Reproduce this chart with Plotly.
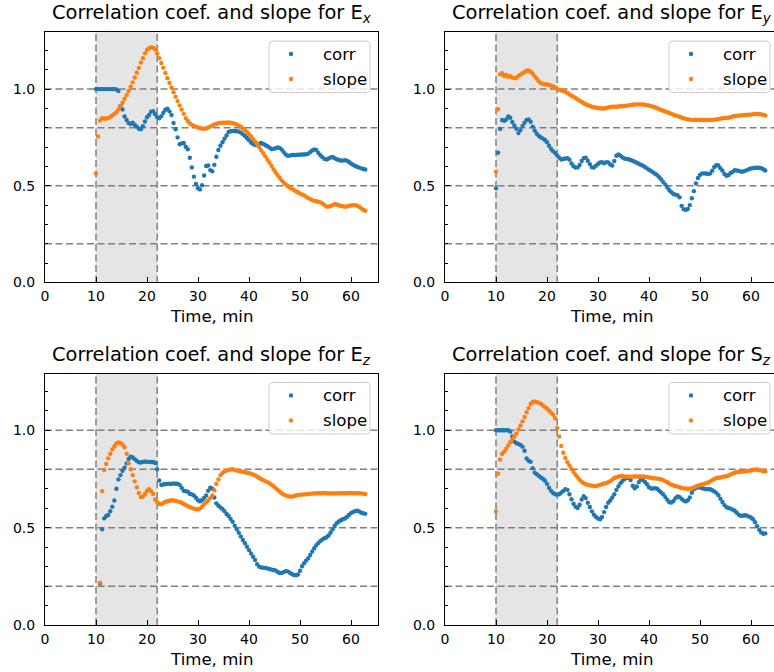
import plotly.graph_objects as go

# ---------------- data ----------------
TIME = [10.0, 10.4, 10.8, 11.2, 11.6, 12.0, 12.4, 12.8, 13.2, 13.6,
        14.0, 14.4, 14.8, 15.2, 15.6, 16.0, 16.4, 16.8, 17.2, 17.6,
        18.0, 18.4, 18.8, 19.2, 19.6, 20.0, 20.4, 20.8, 21.2, 21.6,
        22.0, 22.4, 22.8, 23.2, 23.6, 24.0, 24.4, 24.8, 25.2, 25.6,
        26.0, 26.4, 26.8, 27.2, 27.6, 28.0, 28.4, 28.8, 29.2, 29.6,
        30.0, 30.4, 30.8, 31.2, 31.6, 32.0, 32.4, 32.8, 33.2, 33.6,
        34.0, 34.4, 34.8, 35.2, 35.6, 36.0, 36.4, 36.8, 37.2, 37.6,
        38.0, 38.4, 38.8, 39.2, 39.6, 40.0, 40.4, 40.8, 41.2, 41.6,
        42.0, 42.4, 42.8, 43.2, 43.6, 44.0, 44.4, 44.8, 45.2, 45.6,
        46.0, 46.4, 46.8, 47.2, 47.6, 48.0, 48.4, 48.8, 49.2, 49.6,
        50.0, 50.4, 50.8, 51.2, 51.6, 52.0, 52.4, 52.8, 53.2, 53.6,
        54.0, 54.4, 54.8, 55.2, 55.6, 56.0, 56.4, 56.8, 57.2, 57.6,
        58.0, 58.4, 58.8, 59.2, 59.6, 60.0, 60.4, 60.8, 61.2, 61.6,
        62.0, 62.4, 62.8]

EX_CORR = [1.000, 1.000, 1.000, 1.000, 1.000, 1.000, 1.000, 1.000, 1.000, 1.000,
           0.998, 0.990, 0.913, 0.895, 0.858, 0.840, 0.825, 0.819, 0.826, 0.814,
           0.806, 0.795, 0.792, 0.808, 0.832, 0.854, 0.866, 0.883, 0.886, 0.870,
           0.855, 0.849, 0.860, 0.878, 0.893, 0.899, 0.885, 0.866, 0.825, 0.792,
           0.750, 0.715, 0.719, 0.721, 0.702, 0.689, 0.645, 0.595, 0.547, 0.509,
           0.487, 0.481, 0.503, 0.553, 0.602, 0.605, 0.581, 0.575, 0.608, 0.650,
           0.685, 0.707, 0.725, 0.743, 0.760, 0.778, 0.782, 0.783, 0.783, 0.782,
           0.780, 0.775, 0.766, 0.757, 0.747, 0.736, 0.724, 0.716, 0.711, 0.713,
           0.717, 0.721, 0.716, 0.711, 0.704, 0.698, 0.690, 0.691, 0.694, 0.698,
           0.696, 0.687, 0.674, 0.662, 0.655, 0.656, 0.659, 0.659, 0.659, 0.660,
           0.661, 0.662, 0.662, 0.663, 0.666, 0.674, 0.682, 0.688, 0.685, 0.670,
           0.658, 0.648, 0.639, 0.636, 0.641, 0.646, 0.649, 0.642, 0.637, 0.633,
           0.631, 0.630, 0.632, 0.630, 0.623, 0.615, 0.609, 0.602, 0.598, 0.594,
           0.590, 0.587, 0.584]
EX_SLOPE = [0.564, 0.755, 0.837, 0.850, 0.848, 0.848, 0.850, 0.856, 0.864, 0.872,
            0.880, 0.895, 0.912, 0.930, 0.950, 0.970, 0.990, 1.012, 1.035, 1.060,
            1.085, 1.110, 1.137, 1.160, 1.185, 1.203, 1.211, 1.216, 1.214, 1.205,
            1.185, 1.160, 1.135, 1.110, 1.083, 1.056, 1.032, 1.008, 0.984, 0.961,
            0.938, 0.916, 0.894, 0.872, 0.850, 0.835, 0.823, 0.815, 0.810, 0.806,
            0.801, 0.798, 0.796, 0.795, 0.797, 0.801, 0.806, 0.812, 0.817, 0.820,
            0.823, 0.825, 0.826, 0.826, 0.826, 0.827, 0.826, 0.824, 0.821, 0.816,
            0.811, 0.804, 0.796, 0.788, 0.778, 0.767, 0.755, 0.742, 0.729, 0.715,
            0.699, 0.683, 0.668, 0.652, 0.636, 0.620, 0.603, 0.585, 0.570, 0.555,
            0.541, 0.528, 0.516, 0.507, 0.499, 0.491, 0.485, 0.478, 0.472, 0.466,
            0.460, 0.455, 0.450, 0.443, 0.436, 0.431, 0.426, 0.422, 0.420, 0.418,
            0.414, 0.408, 0.400, 0.393, 0.392, 0.395, 0.400, 0.404, 0.403, 0.399,
            0.396, 0.394, 0.392, 0.393, 0.396, 0.398, 0.400, 0.400, 0.397, 0.392,
            0.383, 0.376, 0.371]

EY_CORR = [0.487, 0.671, 0.794, 0.840, 0.836, 0.843, 0.858, 0.852, 0.830, 0.812,
           0.795, 0.773, 0.788, 0.809, 0.826, 0.840, 0.843, 0.831, 0.806, 0.785,
           0.769, 0.757, 0.750, 0.744, 0.737, 0.725, 0.707, 0.690, 0.679, 0.669,
           0.657, 0.645, 0.636, 0.638, 0.641, 0.642, 0.635, 0.615, 0.601, 0.594,
           0.595, 0.607, 0.628, 0.643, 0.645, 0.629, 0.612, 0.596, 0.594, 0.604,
           0.613, 0.620, 0.622, 0.616, 0.622, 0.621, 0.610, 0.605, 0.628, 0.655,
           0.662, 0.655, 0.646, 0.641, 0.639, 0.637, 0.633, 0.629, 0.624, 0.619,
           0.614, 0.609, 0.604, 0.597, 0.590, 0.583, 0.576, 0.569, 0.562, 0.555,
           0.544, 0.532, 0.519, 0.506, 0.491, 0.477, 0.466, 0.457, 0.454, 0.451,
           0.440, 0.396, 0.379, 0.375, 0.380, 0.400, 0.435, 0.472, 0.512, 0.540,
           0.556, 0.564, 0.564, 0.563, 0.561, 0.564, 0.578, 0.597, 0.606, 0.605,
           0.591, 0.578, 0.561, 0.552, 0.556, 0.566, 0.572, 0.580, 0.579, 0.577,
           0.574, 0.573, 0.577, 0.581, 0.586, 0.589, 0.591, 0.593, 0.593, 0.593,
           0.591, 0.585, 0.579]
EY_SLOPE = [0.573, 0.896, 1.076, 1.082, 1.068, 1.073, 1.064, 1.067, 1.060, 1.056,
            1.059, 1.068, 1.075, 1.082, 1.089, 1.095, 1.096, 1.090, 1.080, 1.066,
            1.053, 1.040, 1.031, 1.027, 1.025, 1.024, 1.021, 1.018, 1.014, 1.008,
            1.000, 0.996, 0.993, 0.990, 0.987, 0.980, 0.972, 0.966, 0.961, 0.954,
            0.947, 0.940, 0.934, 0.927, 0.922, 0.917, 0.913, 0.909, 0.906, 0.904,
            0.902, 0.901, 0.900, 0.900, 0.902, 0.905, 0.907, 0.909, 0.909, 0.909,
            0.910, 0.911, 0.912, 0.913, 0.914, 0.916, 0.918, 0.919, 0.920, 0.921,
            0.921, 0.921, 0.920, 0.919, 0.917, 0.915, 0.912, 0.909, 0.905, 0.901,
            0.896, 0.892, 0.888, 0.884, 0.880, 0.876, 0.872, 0.868, 0.864, 0.860,
            0.857, 0.853, 0.849, 0.846, 0.844, 0.842, 0.841, 0.840, 0.840, 0.840,
            0.840, 0.840, 0.840, 0.840, 0.840, 0.840, 0.841, 0.842, 0.843, 0.845,
            0.847, 0.849, 0.850, 0.851, 0.852, 0.855, 0.858, 0.861, 0.862, 0.863,
            0.864, 0.865, 0.866, 0.866, 0.867, 0.868, 0.870, 0.871, 0.871, 0.871,
            0.869, 0.866, 0.864]

EZ_CORR = [None, None, 0.214, 0.492, 0.548, 0.560, 0.565, 0.585, 0.608, 0.640,
           0.700, 0.748, 0.770, 0.792, 0.808, 0.830, 0.853, 0.865, 0.861, 0.852,
           0.843, 0.836, 0.835, 0.838, 0.840, 0.838, 0.838, 0.837, 0.837, 0.832,
           0.800, 0.742, 0.720, 0.722, 0.724, 0.725, 0.726, 0.725, 0.727, 0.726,
           0.726, 0.720, 0.705, 0.690, 0.687, 0.685, 0.674, 0.671, 0.665, 0.654,
           0.641, 0.635, 0.642, 0.653, 0.665, 0.690, 0.705, 0.700, 0.655, 0.625,
           0.613, 0.604, 0.596, 0.585, 0.570, 0.560, 0.545, 0.530, 0.510, 0.492,
           0.474, 0.455, 0.437, 0.420, 0.402, 0.385, 0.368, 0.351, 0.334, 0.313,
           0.300, 0.296, 0.295, 0.293, 0.291, 0.288, 0.285, 0.283, 0.280, 0.274,
           0.268, 0.268, 0.272, 0.277, 0.276, 0.269, 0.262, 0.257, 0.256, 0.260,
           0.279, 0.302, 0.318, 0.331, 0.343, 0.360, 0.378, 0.395, 0.410, 0.422,
           0.432, 0.440, 0.446, 0.451, 0.460, 0.475, 0.492, 0.509, 0.523, 0.532,
           0.538, 0.543, 0.547, 0.555, 0.565, 0.575, 0.581, 0.585, 0.587, 0.584,
           0.577, 0.574, 0.571]
EZ_SLOPE = [None, None, 0.218, 0.688, 0.796, 0.827, 0.856, 0.880, 0.902, 0.918,
            0.932, 0.938, 0.935, 0.926, 0.913, 0.880, 0.830, 0.800, 0.770, 0.738,
            0.708, 0.678, 0.657, 0.660, 0.673, 0.690, 0.697, 0.688, 0.673, 0.645,
            0.632, 0.622, 0.620, 0.627, 0.633, 0.636, 0.638, 0.641, 0.640, 0.637,
            0.635, 0.632, 0.628, 0.622, 0.617, 0.611, 0.606, 0.602, 0.598, 0.596,
            0.594, 0.598, 0.608, 0.621, 0.631, 0.640, 0.652, 0.665, 0.692, 0.724,
            0.748, 0.770, 0.781, 0.790, 0.793, 0.796, 0.799, 0.800, 0.797, 0.793,
            0.791, 0.789, 0.787, 0.785, 0.782, 0.780, 0.777, 0.773, 0.768, 0.762,
            0.755, 0.749, 0.744, 0.739, 0.734, 0.728, 0.721, 0.713, 0.704, 0.695,
            0.686, 0.677, 0.671, 0.666, 0.662, 0.660, 0.659, 0.662, 0.665, 0.667,
            0.669, 0.670, 0.671, 0.672, 0.673, 0.674, 0.675, 0.676, 0.676, 0.677,
            0.677, 0.677, 0.678, 0.677, 0.676, 0.676, 0.676, 0.676, 0.676, 0.677,
            0.677, 0.677, 0.677, 0.677, 0.678, 0.678, 0.677, 0.677, 0.677, 0.677,
            0.676, 0.675, 0.673]

SZ_CORR = [1.000, 1.000, 1.000, 1.000, 1.000, 1.000, 1.000, 0.993, 0.968, 0.942,
           0.934, 0.930, 0.925, 0.916, 0.895, 0.855, 0.844, 0.838, 0.805, 0.782,
           0.775, 0.766, 0.758, 0.751, 0.741, 0.725, 0.705, 0.689, 0.678, 0.672,
           0.670, 0.672, 0.681, 0.689, 0.698, 0.694, 0.672, 0.646, 0.623, 0.608,
           0.601, 0.618, 0.645, 0.662, 0.652, 0.628, 0.606, 0.584, 0.567, 0.555,
           0.547, 0.543, 0.555, 0.580, 0.606, 0.628, 0.640, 0.655, 0.672, 0.694,
           0.712, 0.728, 0.740, 0.750, 0.755, 0.755, 0.745, 0.715, 0.702, 0.712,
           0.734, 0.747, 0.745, 0.735, 0.723, 0.708, 0.701, 0.701, 0.703, 0.700,
           0.690, 0.681, 0.671, 0.657, 0.643, 0.631, 0.629, 0.637, 0.652, 0.661,
           0.657, 0.648, 0.639, 0.635, 0.641, 0.655, 0.680, 0.697, 0.705, 0.708,
           0.707, 0.703, 0.700, 0.698, 0.697, 0.697, 0.692, 0.686, 0.679, 0.667,
           0.649, 0.632, 0.616, 0.605, 0.601, 0.598, 0.593, 0.587, 0.577, 0.566,
           0.561, 0.561, 0.564, 0.561, 0.557, 0.552, 0.543, 0.528, 0.508, 0.489,
           0.476, 0.469, 0.471]
SZ_SLOPE = [0.584, 0.777, 0.850, 0.878, 0.890, 0.905, 0.922, 0.939, 0.954, 0.967,
            0.983, 1.004, 1.025, 1.046, 1.068, 1.093, 1.114, 1.135, 1.145, 1.148,
            1.145, 1.141, 1.136, 1.127, 1.119, 1.112, 1.102, 1.090, 1.080, 1.062,
            1.011, 0.968, 0.920, 0.885, 0.858, 0.836, 0.819, 0.801, 0.786, 0.772,
            0.759, 0.746, 0.736, 0.729, 0.723, 0.720, 0.718, 0.715, 0.714, 0.714,
            0.717, 0.720, 0.723, 0.727, 0.729, 0.733, 0.739, 0.747, 0.755, 0.759,
            0.762, 0.764, 0.764, 0.763, 0.762, 0.762, 0.762, 0.762, 0.763, 0.763,
            0.763, 0.763, 0.763, 0.762, 0.760, 0.758, 0.756, 0.754, 0.753, 0.752,
            0.750, 0.748, 0.744, 0.738, 0.733, 0.727, 0.721, 0.717, 0.714, 0.711,
            0.708, 0.704, 0.702, 0.701, 0.700, 0.700, 0.703, 0.707, 0.712, 0.716,
            0.719, 0.722, 0.725, 0.728, 0.732, 0.738, 0.744, 0.750, 0.755, 0.757,
            0.758, 0.761, 0.763, 0.765, 0.768, 0.773, 0.778, 0.782, 0.786, 0.786,
            0.787, 0.788, 0.790, 0.791, 0.793, 0.794, 0.796, 0.798, 0.799, 0.796,
            0.793, 0.790, 0.789]

COMPONENTS = ["E<sub><i>x</i></sub>", "E<sub><i>y</i></sub>",
              "E<sub><i>z</i></sub>", "S<sub><i>z</i></sub>"]
CORR_SERIES = [EX_CORR, EY_CORR, EZ_CORR, SZ_CORR]
SLOPE_SERIES = [EX_SLOPE, EY_SLOPE, EZ_SLOPE, SZ_SLOPE]
SERIES_NAMES = ["corr", "slope"]
SHADE_SPAN = [10, 22]
REF_LEVELS = [0.2, 0.5, 0.8, 1.0]
X_TICKS = [0, 10, 20, 30, 40, 50, 60]
Y_TICKS = [0.0, 0.5, 1.0]

# ---------------- layout geometry ----------------
W, H = 774, 672
BLUE, ORANGE = "#1f77b4", "#ff7f0e"
FONT = "DejaVu Sans"
PXU = 5.1                    # pixels per minute
LEFTS = [45, 445, 45, 445]   # pixel x of the y axis
TOPS = [32.3, 32.3, 373.7, 373.7]
BOTS = [282.4, 282.4, 625.1, 625.1]


def px(xp):
    return xp / W


def py(yp):
    return 1 - yp / H


def rounded_rect(x0, y0, x1, y1, r):
    """SVG path (paper coords) of a rounded rectangle given in pixels."""
    pts = [
        ("M", x0 + r, y0), ("L", x1 - r, y0), ("Q", x1, y0, x1, y0 + r),
        ("L", x1, y1 - r), ("Q", x1, y1, x1 - r, y1), ("L", x0 + r, y1),
        ("Q", x0, y1, x0, y1 - r), ("L", x0, y0 + r), ("Q", x0, y0, x0 + r, y0),
    ]
    out = []
    for p in pts:
        cmd, coords = p[0], p[1:]
        xy = []
        for j in range(0, len(coords), 2):
            xy.append(f"{px(coords[j]):.5f},{py(coords[j + 1]):.5f}")
        out.append(cmd + " ".join(xy))
    return " ".join(out) + " Z"


fig = go.Figure()

for i in range(4):
    n = i + 1
    xa = "x" if n == 1 else f"x{n}"
    ya = "y" if n == 1 else f"y{n}"
    left = LEFTS[i]
    right_full = left + 65.3 * PXU
    right = min(right_full, W)
    xmax = (right - left) / PXU
    ymax = (BOTS[i] - TOPS[i]) / (193.3 if i < 2 else 194.8)

    for vals, name, col in ((CORR_SERIES[i], SERIES_NAMES[0], BLUE),
                            (SLOPE_SERIES[i], SERIES_NAMES[1], ORANGE)):
        fig.add_trace(go.Scatter(
            x=TIME, y=vals, mode="markers", name=name,
            marker=dict(color=col, size=4.4, line=dict(width=0)),
            xaxis=xa, yaxis=ya, showlegend=False))

    axkey_x = "xaxis" if n == 1 else f"xaxis{n}"
    axkey_y = "yaxis" if n == 1 else f"yaxis{n}"
    fig.update_layout({
        axkey_x: dict(
            domain=[left / W, right / W], range=[0, xmax], anchor=ya,
            tickvals=X_TICKS, ticks="inside", ticklen=5, tickwidth=1,
            tickcolor="black", showline=True, linecolor="black", linewidth=1.1,
            mirror=True, showgrid=False, zeroline=False, automargin=False,
            tickfont=dict(family=FONT, size=14, color="black"),
            ticklabelstandoff=1),
        axkey_y: dict(
            domain=[1 - BOTS[i] / H, 1 - TOPS[i] / H], range=[0, ymax],
            anchor=xa, tickvals=Y_TICKS, tickformat=".1f", ticks="inside",
            ticklen=5, tickwidth=1, tickcolor="black", showline=True,
            linecolor="black", linewidth=1.1, mirror=(i % 2 == 0),
            showgrid=False, zeroline=False, automargin=False,
            tickfont=dict(family=FONT, size=14, color="black"),
            ticklabelstandoff=6,
            minor=dict(dtick=0.1, tick0=0, ticks="inside", ticklen=3,
                       tickcolor="black", tickwidth=1, showgrid=False)),
    })

    # shaded interval and dashed reference lines
    fig.add_shape(type="rect", xref=xa, yref=f"{ya} domain",
                  x0=SHADE_SPAN[0], x1=SHADE_SPAN[1], y0=0, y1=1,
                  fillcolor="#e5e5e5", line=dict(width=0), layer="below")
    for lv in REF_LEVELS:
        fig.add_shape(type="line", xref=f"{xa} domain", yref=ya,
                      x0=0, x1=1, y0=lv, y1=lv, layer="below",
                      line=dict(color="#808080", width=1.5, dash="7px,3.5px"))
    for xv in SHADE_SPAN:
        fig.add_shape(type="line", xref=xa, yref=f"{ya} domain",
                      x0=xv, x1=xv, y0=0, y1=1, layer="below",
                      line=dict(color="#808080", width=1.5, dash="7px,3.5px"))

    # legend box (matplotlib-style, rounded corners)
    top = TOPS[i]
    lx0, lx1 = left + 224, left + 325
    ly0, ly1 = top + 8.8, top + 60.3
    fig.add_shape(type="path", xref="paper", yref="paper",
                  path=rounded_rect(lx0, ly0, lx1, ly1, 4),
                  fillcolor="rgba(255,255,255,0.8)",
                  line=dict(color="#cccccc", width=1), layer="above")
    for k, (name, col) in enumerate(((SERIES_NAMES[0], BLUE),
                                     (SERIES_NAMES[1], ORANGE))):
        cy = top + 21.7 + 25 * k
        cxm = left + 246
        fig.add_shape(type="circle", xref="paper", yref="paper",
                      x0=px(cxm - 2.2), x1=px(cxm + 2.2),
                      y0=py(cy + 2.2), y1=py(cy - 2.2),
                      fillcolor=col, line=dict(width=0), layer="above")
        fig.add_annotation(
            text=name, xref="paper", yref="paper", x=px(left + 275.5),
            y=py(cy + 0.5), xanchor="left", yanchor="middle", showarrow=False,
            font=dict(family=FONT, size=16.6, color="black"))

    cx = (left + right_full) / 2 / W
    fig.add_annotation(
        text="Correlation coef. and slope for " + COMPONENTS[i],
        xref="paper", yref="paper", x=cx, y=1 - (TOPS[i] - 18.5) / H,
        xanchor="center", yanchor="middle", showarrow=False,
        font=dict(family=FONT, size=19.4, color="black"))
    fig.add_annotation(
        text="Time, min", xref="paper", yref="paper", x=cx,
        y=1 - (BOTS[i] + 34.5) / H, xanchor="center", yanchor="middle",
        showarrow=False, font=dict(family=FONT, size=16.6, color="black"))

fig.update_layout(
    width=W, height=H, margin=dict(l=0, r=0, t=0, b=0),
    paper_bgcolor="white", plot_bgcolor="white", showlegend=False,
    font=dict(family=FONT, color="black"),
)

fig.write_html("out.html")
